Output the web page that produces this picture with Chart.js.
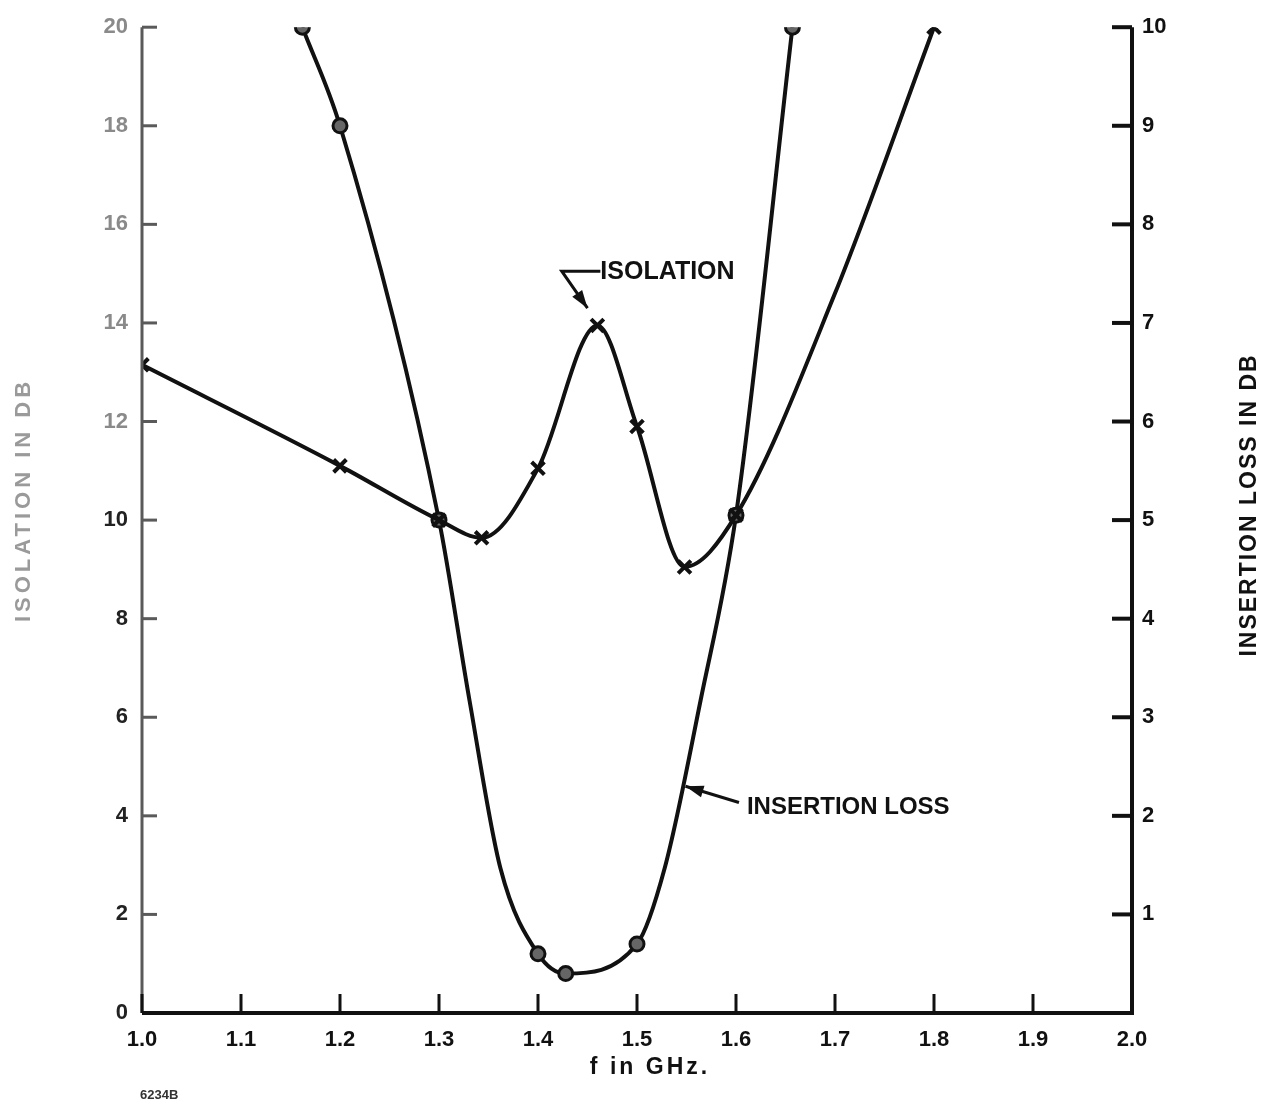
<!DOCTYPE html>
<html><head><meta charset="utf-8">
<script src="https://cdn.jsdelivr.net/npm/chart.js@4.4.1/dist/chart.umd.min.js"></script>
<style>html,body{margin:0;padding:0;background:#fff}#wrap{width:1264px;height:1107px}</style>
</head><body><div id="wrap"><canvas id="c" width="1264" height="1107"></canvas></div>
<script>
// ---- data ----
const xTicks = [1.0, 1.1, 1.2, 1.3, 1.4, 1.5, 1.6, 1.7, 1.8, 1.9, 2.0];
const leftTicks = [0, 2, 4, 6, 8, 10, 12, 14, 16, 18, 20];
const rightTicks = [0, 1, 2, 3, 4, 5, 6, 7, 8, 9, 10];

const isolationFreq = [1.0, 1.2, 1.3, 1.343, 1.4, 1.46, 1.5, 1.548, 1.6, 1.7, 1.8];
const isolationDb   = [13.15, 11.1, 10.0, 9.64, 11.05, 13.95, 11.9, 9.05, 10.1, 14.6, 20.0];
const isolationMarked = [1, 1, 1, 1, 1, 1, 1, 1, 1, 0, 1];

const lossFreq = [1.162, 1.2, 1.3, 1.331, 1.362, 1.4, 1.428, 1.5, 1.528, 1.564, 1.6, 1.657];
const lossDb   = [10.0, 9.0, 5.0, 3.16, 1.47, 0.6, 0.4, 0.7, 1.47, 3.16, 5.05, 10.0];
const lossMarked = [1, 1, 1, 0, 0, 1, 1, 1, 0, 0, 1, 1];

const FONT = '"Liberation Sans", "DejaVu Sans", Arial, sans-serif';

const axesPlugin = {
  id: 'axesPlugin',
  afterDatasetsDraw(chart) {
    const {ctx, chartArea: a, scales} = chart;
    const x = scales.x, y = scales.y, y2 = scales.y2;
    ctx.save();
    ctx.lineCap = 'butt';
    // left axis (faded)
    ctx.strokeStyle = '#5a5a5a'; ctx.lineWidth = 3;
    ctx.beginPath(); ctx.moveTo(a.left, a.top); ctx.lineTo(a.left, a.bottom); ctx.stroke();
    leftTicks.forEach(v => {
      const py = y.getPixelForValue(v);
      ctx.beginPath(); ctx.moveTo(a.left, py); ctx.lineTo(a.left + 15, py); ctx.stroke();
    });
    // bottom axis
    ctx.strokeStyle = '#111'; ctx.lineWidth = 4;
    ctx.beginPath(); ctx.moveTo(a.left, a.bottom); ctx.lineTo(a.right + 2, a.bottom); ctx.stroke();
    ctx.lineWidth = 3;
    xTicks.forEach(v => {
      const px = x.getPixelForValue(v);
      ctx.beginPath(); ctx.moveTo(px, a.bottom); ctx.lineTo(px, a.bottom - 19); ctx.stroke();
    });
    // right axis
    ctx.lineWidth = 4;
    ctx.beginPath(); ctx.moveTo(a.right, a.top); ctx.lineTo(a.right, a.bottom + 2); ctx.stroke();
    rightTicks.forEach(v => {
      if (v === 0) return;
      const py = y2.getPixelForValue(v);
      ctx.beginPath(); ctx.moveTo(a.right, py); ctx.lineTo(a.right - 20, py); ctx.stroke();
    });

    // axis titles
    ctx.fillStyle = '#111';
    ctx.font = 'bold 23px ' + FONT;
    ctx.letterSpacing = '3px';
    ctx.textAlign = 'center'; ctx.textBaseline = 'middle';
    ctx.fillText('f in GHz.', 650, 1068);

    ctx.save();
    ctx.translate(1250, 505); ctx.rotate(-Math.PI / 2);
    ctx.letterSpacing = '2px';
    ctx.font = 'bold 23px ' + FONT;
    ctx.fillText('INSERTION LOSS IN DB', 0, 0);
    ctx.restore();

    ctx.save();
    ctx.translate(24, 500); ctx.rotate(-Math.PI / 2);
    ctx.letterSpacing = '4px';
    ctx.fillStyle = '#9a9a9a';
    ctx.font = 'bold 22px ' + FONT;
    ctx.fillText('ISOLATION IN DB', 0, 0);
    ctx.restore();

    ctx.letterSpacing = '0px';
    ctx.font = 'bold 13px ' + FONT;
    ctx.fillStyle = '#333';
    ctx.textAlign = 'left';
    ctx.fillText('6234B', 140, 1095);

    // annotation: ISOLATION
    const isoTextX = x.getPixelForValue(1.463), isoTextY = y.getPixelForValue(15.05);
    const isoCornerX = x.getPixelForValue(1.424);
    const isoTipX = x.getPixelForValue(1.45), isoTipY = y.getPixelForValue(14.3);
    ctx.font = 'bold 25px ' + FONT;
    ctx.fillStyle = '#111';
    ctx.textAlign = 'left';
    ctx.fillText('ISOLATION', isoTextX, isoTextY + 1);
    ctx.strokeStyle = '#111'; ctx.lineWidth = 3;
    ctx.beginPath();
    ctx.moveTo(isoTextX, isoTextY); ctx.lineTo(isoCornerX, isoTextY);
    ctx.lineTo(isoTipX, isoTipY); ctx.stroke();
    drawHead(ctx, isoCornerX, isoTextY, isoTipX, isoTipY);

    // annotation: INSERTION LOSS
    const ilTextX = x.getPixelForValue(1.611), ilTextY = y.getPixelForValue(4.2);
    const ilTailX = x.getPixelForValue(1.603), ilTailY = y.getPixelForValue(4.27);
    const ilTipX = x.getPixelForValue(1.549), ilTipY = y.getPixelForValue(4.6);
    ctx.font = 'bold 24px ' + FONT;
    ctx.fillText('INSERTION LOSS', ilTextX, ilTextY + 1);
    ctx.beginPath(); ctx.moveTo(ilTailX, ilTailY); ctx.lineTo(ilTipX, ilTipY); ctx.stroke();
    drawHead(ctx, ilTailX, ilTailY, ilTipX, ilTipY);
    ctx.restore();
  }
};
function drawHead(ctx, x0, y0, x1, y1) {
  const ang = Math.atan2(y1 - y0, x1 - x0), L = 18, W = 6;
  ctx.beginPath();
  ctx.moveTo(x1, y1);
  ctx.lineTo(x1 - L * Math.cos(ang) + W * Math.sin(ang), y1 - L * Math.sin(ang) - W * Math.cos(ang));
  ctx.lineTo(x1 - L * Math.cos(ang) - W * Math.sin(ang), y1 - L * Math.sin(ang) + W * Math.cos(ang));
  ctx.closePath(); ctx.fill();
}

const tickFont = {family: FONT, size: 22, weight: 'bold'};

new Chart(document.getElementById('c'), {
  type: 'line',
  data: {
    datasets: [
      {
        label: 'Isolation',
        yAxisID: 'y',
        data: isolationFreq.map((f, i) => ({x: f, y: isolationDb[i]})),
        borderColor: '#111', borderWidth: 4,
        cubicInterpolationMode: 'monotone',
        pointStyle: 'crossRot',
        pointRadius: c => isolationMarked[c.dataIndex] ? 9 : 0,
        pointBorderWidth: 4, pointBorderColor: '#111', pointBackgroundColor: '#111',
        fill: false
      },
      {
        label: 'Insertion loss',
        yAxisID: 'y2',
        data: lossFreq.map((f, i) => ({x: f, y: lossDb[i]})),
        borderColor: '#111', borderWidth: 4,
        cubicInterpolationMode: 'monotone',
        pointStyle: 'circle',
        pointRadius: c => lossMarked[c.dataIndex] ? 7 : 0,
        pointBorderWidth: 3, pointBorderColor: '#111', pointBackgroundColor: '#666',
        fill: false
      }
    ]
  },
  options: {
    responsive: false, animation: false,
    layout: {padding: {left: 0, right: 0, top: 23, bottom: 0}},
    plugins: {legend: {display: false}, tooltip: {enabled: false}},
    scales: {
      x: {
        type: 'linear', min: 1.0, max: 2.0,
        afterBuildTicks: s => { s.ticks = xTicks.map(v => ({value: v})); },
        ticks: {callback: v => Number(v).toFixed(1), font: tickFont, color: '#111', padding: 14, maxRotation: 0, autoSkip: false},
        grid: {display: false, drawTicks: false}, border: {display: false},
        afterFit: s => { s.height = 94; }
      },
      y: {
        position: 'left', min: 0, max: 20,
        afterBuildTicks: s => { s.ticks = leftTicks.map(v => ({value: v})); },
        ticks: {font: tickFont, color: c => c.tick.value >= 12 ? '#8a8a8a' : '#222', padding: 14, autoSkip: false},
        grid: {display: false, drawTicks: false}, border: {display: false},
        afterFit: s => { s.width = 142; }
      },
      y2: {
        position: 'right', min: 0, max: 10,
        afterBuildTicks: s => { s.ticks = rightTicks.map(v => ({value: v})); },
        ticks: {font: tickFont, color: '#111', padding: 10, autoSkip: false, callback: v => v === 0 ? '' : String(v)},
        grid: {display: false, drawTicks: false}, border: {display: false},
        afterFit: s => { s.width = 132; }
      }
    }
  },
  plugins: [axesPlugin]
});
</script>
</body></html>
